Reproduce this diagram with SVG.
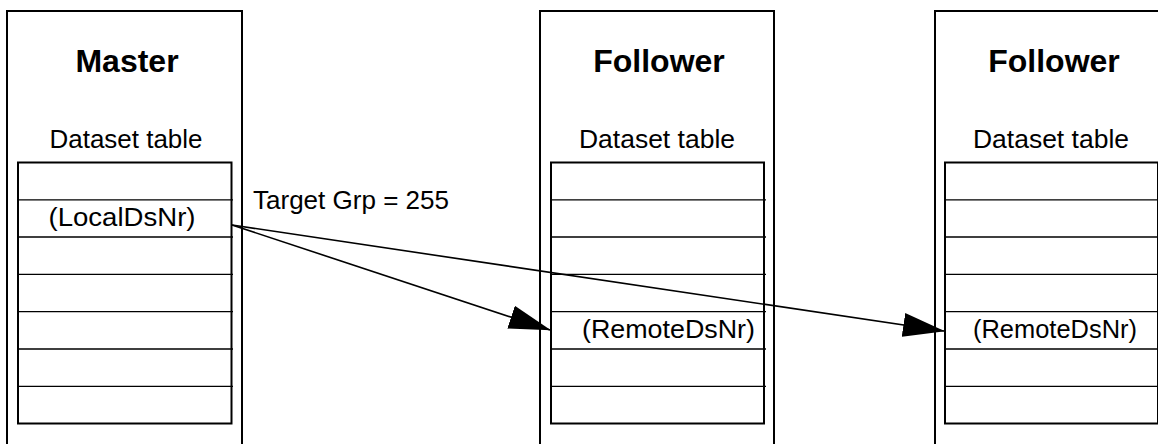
<svg xmlns="http://www.w3.org/2000/svg" width="1158" height="444" viewBox="0 0 1158 444">
<style>
.box{fill:#fff;stroke:#000;stroke-width:2}
.tbl{fill:#fff;stroke:#000;stroke-width:2}
.row{stroke:#000;stroke-width:1.3}
.title{font-family:"Liberation Sans",Arial,sans-serif;font-weight:bold;font-size:32px;text-anchor:middle;fill:#000}
.lbl{font-family:"Liberation Sans",Arial,sans-serif;font-size:25px;fill:#000}
.conn{stroke:#000;stroke-width:1.6;fill:none}
</style>
<defs>
<marker id="arr" markerUnits="userSpaceOnUse" viewBox="0 0 42 24" refX="41" refY="12" markerWidth="42" markerHeight="24" orient="auto">
<path d="M0,0 L42,12 L0,24 z" fill="#000"/>
</marker>
</defs>
<rect width="1158" height="444" fill="#fff"/>
<g id="master">
<rect class="box" x="7" y="11" width="235" height="460"/>
<text class="title" x="127" y="72">Master</text>
<text class="lbl" x="126" y="148" text-anchor="middle" textLength="153" lengthAdjust="spacingAndGlyphs">Dataset table</text>
<rect class="tbl" x="18" y="162.5" width="213.5" height="261"/>
<path class="row" d="M18,199.8H233M18,237H233M18,274.3H233M18,311.6H233M18,349H233M18,386.3H233"/>
<text class="lbl" x="122" y="226" text-anchor="middle" textLength="147" lengthAdjust="spacingAndGlyphs">(LocalDsNr)</text>
</g>
<g id="follower1">
<rect class="box" x="540" y="11" width="234" height="460"/>
<text class="title" x="659" y="72">Follower</text>
<text class="lbl" x="657" y="148" text-anchor="middle" textLength="156" lengthAdjust="spacingAndGlyphs">Dataset table</text>
<rect class="tbl" x="551" y="162.5" width="213" height="261"/>
<path class="row" d="M551,199.8H766M551,237H766M551,274.3H766M551,311.6H766M551,349H766M551,386.3H766"/>
<text class="lbl" x="582" y="338" textLength="173" lengthAdjust="spacingAndGlyphs">(RemoteDsNr)</text>
</g>
<g id="follower2">
<rect class="box" x="935" y="11" width="234" height="460"/>
<text class="title" x="1054" y="72">Follower</text>
<text class="lbl" x="1051" y="148" text-anchor="middle" textLength="156" lengthAdjust="spacingAndGlyphs">Dataset table</text>
<rect class="tbl" x="945" y="162.5" width="213" height="261"/>
<path class="row" d="M945,199.8H1160M945,237H1160M945,274.3H1160M945,311.6H1160M945,349H1160M945,386.3H1160"/>
<text class="lbl" x="973" y="338" textLength="164" lengthAdjust="spacingAndGlyphs">(RemoteDsNr)</text>
</g>
<g id="connectors">
<path class="conn" d="M232,225 L550,330" marker-end="url(#arr)"/>
<path class="conn" d="M232,225 L944,331" marker-end="url(#arr)"/>
<text class="lbl" x="253" y="209" textLength="196" lengthAdjust="spacingAndGlyphs">Target Grp = 255</text>
</g>
</svg>
